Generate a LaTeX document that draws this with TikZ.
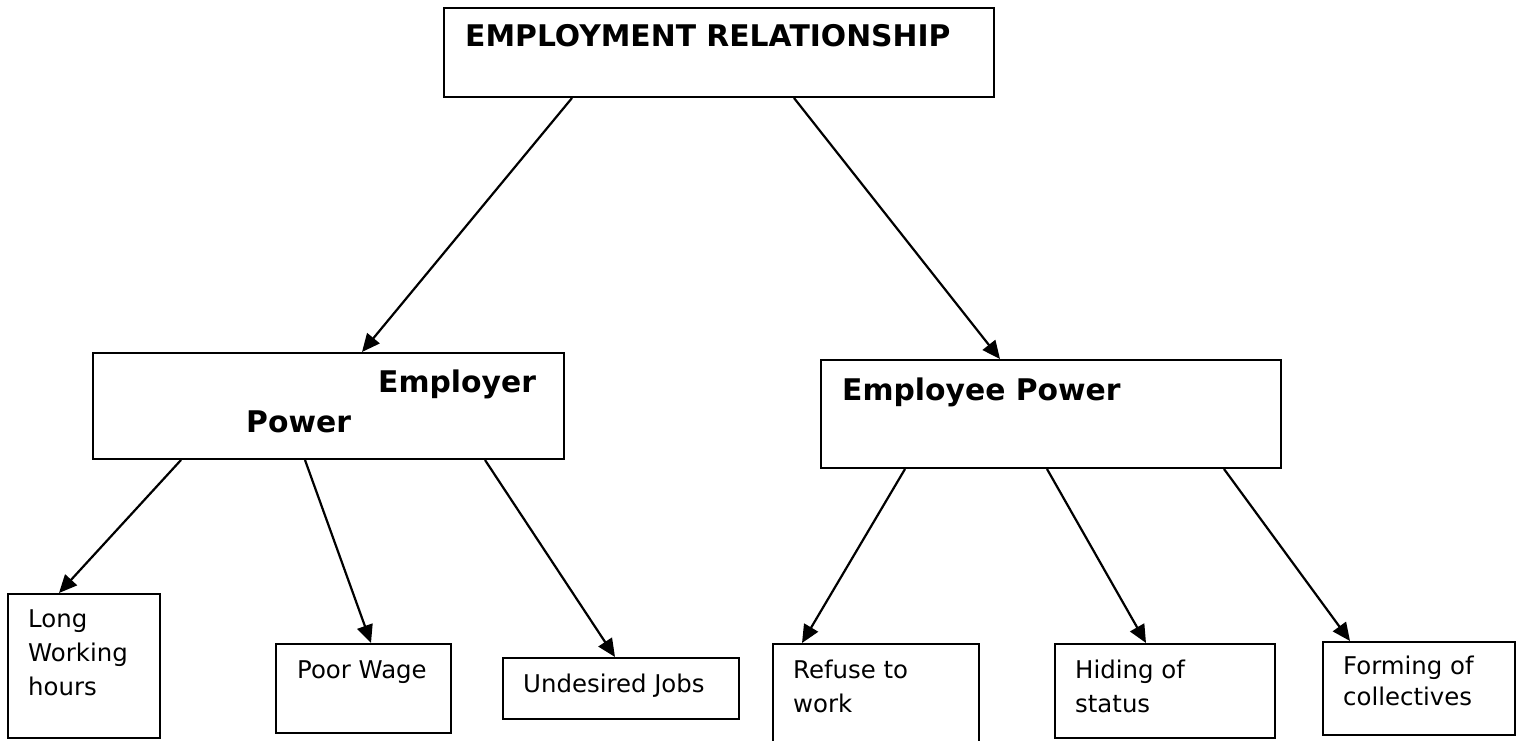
\documentclass[tikz,border=0pt]{standalone}
\usepackage{fontspec}
\setmainfont{DejaVu Sans}
\usetikzlibrary{arrows.meta}

\tikzset{
  box/.style={draw, line width=2pt, inner sep=0pt, anchor=north west},
  boxtext/.style={anchor=base west, align=left, inner sep=0pt,
    font=\fontsize{24.4}{34}\selectfont},
  headtext/.style={anchor=base west, align=left, inner sep=0pt,
    font=\fontsize{29.8}{40}\selectfont\bfseries},
  link/.style={line width=2.2pt, -{Triangle[length=18pt,width=16pt]}}
}

\begin{document}
\begin{tikzpicture}[x=1pt,y=-1pt]
                    \useasboundingbox (0,0) rectangle (1525,741);

                    % boxes
                    \node[box, minimum width=550pt, minimum height=89pt] (rel) at (443,7) {};
                    \node[box, minimum width=471pt, minimum height=106pt] (emr) at (92,352) {};
                    \node[box, minimum width=460pt, minimum height=108pt] (eee) at (820,359) {};
                    \node[box, minimum width=152pt, minimum height=144pt] (longhrs) at (7,593) {};
                    \node[box, minimum width=175pt, minimum height=89pt] (wage) at (275,643) {};
                    \node[box, minimum width=236pt, minimum height=61pt] (jobs) at (502,657) {};
                    \node[box, minimum width=206pt, minimum height=105pt] (refuse) at (772,643) {};
                    \node[box, minimum width=220pt, minimum height=94pt] (hiding) at (1054,643) {};
                    \node[box, minimum width=192pt, minimum height=93pt] (collect) at (1322,641) {};

                    % texts (placed on the baseline of their last line)
                    \node[headtext] (reltext) at (465,47) {EMPLOYMENT RELATIONSHIP};
                    \node[headtext] (emrtext) at (246,432) {\hspace*{132pt}Employer\\Power};
                    \node[headtext] (eeetext) at (842,400) {Employee Power};
                    \node[boxtext] (longtext) at (28,695) {Long\\Working\\hours};
                    \node[boxtext] (wagetext) at (297,678) {Poor Wage};
                    \node[boxtext] (jobstext) at (523,692) {Undesired Jobs};
                    \node[boxtext] (refusetext) at (793,712) {Refuse to\\work};
                    \node[boxtext] (hidingtext) at (1075,712) {Hiding of\\status};
                    \node[boxtext, font=\fontsize{24.4}{31}\selectfont] (collecttext) at (1343,705) {Forming of\\collectives};

                    % arrows
                    \draw[link] ([xshift=129pt]rel.south west) -- ([xshift=270pt]emr.north west);
                    \draw[link] ([xshift=351pt]rel.south west) -- ([xshift=180pt]eee.north west);
                    \draw[link] ([xshift=89pt]emr.south west) -- ([xshift=52pt]longhrs.north west);
                    \draw[link] ([xshift=213pt]emr.south west) -- ([xshift=96pt]wage.north west);
                    \draw[link] ([xshift=393pt]emr.south west) -- ([xshift=113pt]jobs.north west);
                    \draw[link] ([xshift=85pt]eee.south west) -- ([xshift=30pt]refuse.north west);
                    \draw[link] ([xshift=227pt]eee.south west) -- ([xshift=92pt]hiding.north west);
                    \draw[link] ([xshift=404pt]eee.south west) -- ([xshift=28pt]collect.north west);
\end{tikzpicture}
\end{document}
